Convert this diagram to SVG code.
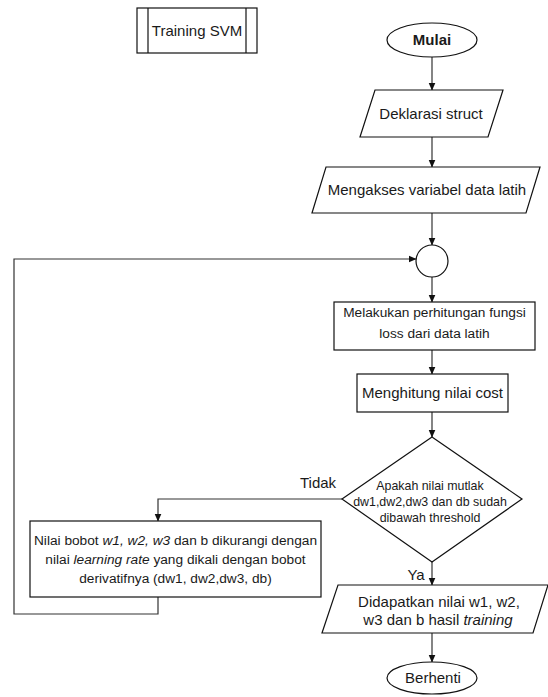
<svg xmlns="http://www.w3.org/2000/svg" width="548" height="697" viewBox="0 0 548 697">
<defs>
<marker id="arr" viewBox="0 0 8 8" refX="7.5" refY="4" markerWidth="8" markerHeight="8" markerUnits="userSpaceOnUse" orient="auto">
<path d="M0,0.5 L8,4 L0,7.5 Z" fill="#111"/>
</marker>
<style>
.s{fill:#fff;stroke:#111;stroke-width:1.2}
.c{fill:none;stroke:#333;stroke-width:1.2}
.t{font-family:"Liberation Sans",Arial,sans-serif;font-size:15px;fill:#1a1a1a;text-anchor:middle}
.m{font-size:13.7px}
.d{font-size:12.4px}
.i{font-style:italic}
.b{font-weight:bold}
</style>
</defs>
<rect width="548" height="697" fill="#fff"/>
<g id="connectors">
<path class="c" d="M432,57 V90" marker-end="url(#arr)"/>
<path class="c" d="M432,137 V167" marker-end="url(#arr)"/>
<path class="c" d="M432,213 V245" marker-end="url(#arr)"/>
<path class="c" d="M432,277 V302" marker-end="url(#arr)"/>
<path class="c" d="M432,350 V374" marker-end="url(#arr)"/>
<path class="c" d="M432,412 V437" marker-end="url(#arr)"/>
<path class="c" d="M342,499 H158 V521" marker-end="url(#arr)"/>
<path class="c" d="M432,562 V585" marker-end="url(#arr)"/>
<path class="c" d="M432,633 V662" marker-end="url(#arr)"/>
<path class="c" d="M158,597 V614 H14 V259 H416" marker-end="url(#arr)"/>
<text class="t" x="318" y="488">Tidak</text>
<text class="t" x="416" y="580">Ya</text>
</g>
<g id="training-svm">
<rect class="s" x="137" y="8" width="120" height="45"/>
<line class="s" x1="148" y1="8" x2="148" y2="53"/>
<line class="s" x1="246" y1="8" x2="246" y2="53"/>
<text class="t" x="197" y="36">Training SVM</text>
</g>
<g id="mulai">
<ellipse class="s" cx="432" cy="40" rx="45" ry="17"/>
<text class="t b" x="432" y="45">Mulai</text>
</g>
<g id="deklarasi">
<polygon class="s" points="375,90 503,90 488,137 360,137"/>
<text class="t" x="431" y="119">Deklarasi struct</text>
</g>
<g id="mengakses">
<polygon class="s" points="326,167 540,167 526,213 312,213"/>
<text class="t" x="427" y="195">Mengakses variabel data latih</text>
</g>
<g id="junction">
<circle class="s" cx="432" cy="261" r="16"/>
</g>
<g id="melakukan">
<rect class="s" x="334" y="302" width="201" height="48"/>
<text class="t m" x="434.5" y="317">Melakukan perhitungan fungsi</text>
<text class="t m" x="434.5" y="338">loss dari data latih</text>
</g>
<g id="menghitung">
<rect class="s" x="357" y="374" width="151" height="38"/>
<text class="t" x="432.5" y="398">Menghitung nilai cost</text>
</g>
<g id="keputusan">
<polygon class="s" points="432,437 522,499 432,562 342,499"/>
<text class="t d" x="430" y="490">Apakah nilai mutlak</text>
<text class="t d" x="430" y="506">dw1,dw2,dw3 dan db sudah</text>
<text class="t d" x="430" y="522">dibawah threshold</text>
</g>
<g id="update-bobot">
<rect class="s" x="30" y="521" width="291" height="76"/>
<text class="t m" x="175.5" y="545">Nilai bobot <tspan class="i">w1, w2, w3</tspan> dan b dikurangi dengan</text>
<text class="t m" x="175.5" y="564">nilai <tspan class="i">learning rate</tspan> yang dikali dengan bobot</text>
<text class="t m" x="175.5" y="583">derivatifnya (dw1, dw2,dw3, db)</text>
</g>
<g id="hasil">
<polygon class="s" points="338,585 548,585 533,633 322,633"/>
<text class="t" x="439" y="607">Didapatkan nilai w1, w2,</text>
<text class="t" x="438" y="625">w3 dan b hasil <tspan class="i">training</tspan></text>
</g>
<g id="berhenti">
<ellipse class="s" cx="432" cy="678" rx="45" ry="16"/>
<text class="t" x="433" y="683">Berhenti</text>
</g>
</svg>
